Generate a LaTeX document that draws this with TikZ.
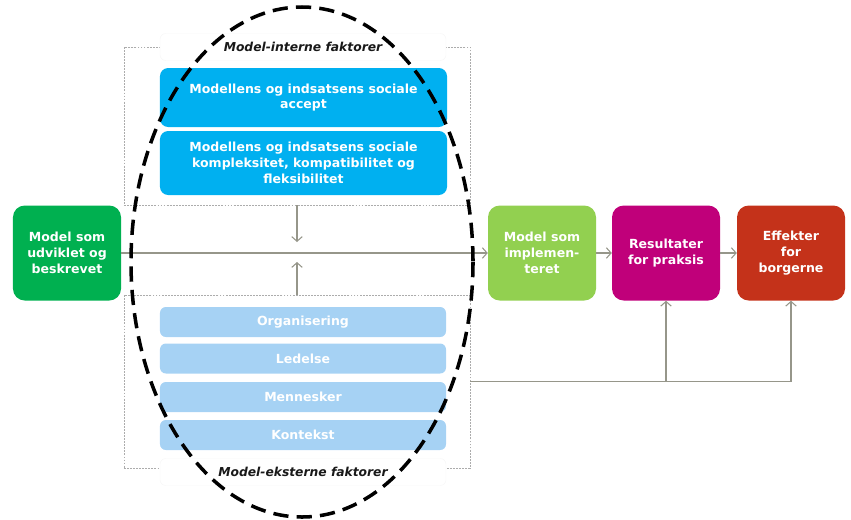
\documentclass[tikz,border=0pt]{standalone}
\usepackage{fontspec}
\setmainfont{DejaVu Sans}
\usetikzlibrary{arrows.meta}
\definecolor{darkgreen}{RGB}{0,176,80}
\definecolor{lightgreen}{RGB}{146,208,80}
\definecolor{praksismagenta}{RGB}{192,0,122}
\definecolor{borgerred}{RGB}{196,50,26}
\definecolor{internblue}{RGB}{0,176,240}
\definecolor{eksternblue}{RGB}{166,210,244}
\definecolor{linegray}{RGB}{150,150,138}

\begin{document}
\begin{tikzpicture}[x=0.03cm, y=-0.03cm,
    txt/.style={text=white, font=\bfseries\fontsize{10.7}{13.4}\selectfont, align=center, inner sep=0pt},
    stepbox/.style={txt, rounded corners=10pt, minimum width=3.24cm, minimum height=2.85cm},
    internbox/.style={txt, fill=internblue, rounded corners=7pt, minimum width=8.61cm},
    eksternbox/.style={txt, fill=eksternblue, rounded corners=5pt, minimum width=8.58cm, minimum height=0.9cm},
    frame/.style={draw=gray!65, line width=0.7pt, dash pattern=on 1.6pt off 1pt, inner sep=0pt, minimum width=10.38cm},
    labelbox/.style={draw=gray!6, fill=white, rounded corners=5pt, minimum width=8.58cm, minimum height=0.81cm,
        font=\bfseries\itshape\fontsize{10.5}{12}\selectfont, text=black!90},
    flow/.style={draw=linegray, line width=0.9pt, -{Straight Barb[length=4pt, width=9pt]}}]
			\useasboundingbox (0,0) rectangle (851,519);
			\node[frame, minimum height=4.74cm] (interne)  at (297, 126)   {};
			\node[frame, minimum height=5.19cm] (eksterne) at (297, 381.5) {};
			\node[labelbox] (internelabel)  at (303, 47)  {Model-interne faktorer};
			\node[labelbox] (eksternelabel) at (303, 472) {Model-eksterne faktorer};
			\node[internbox, minimum height=1.77cm] (accept)   at (303.5, 97.5) {Modellens og indsatsens sociale\\accept};
			\node[internbox, minimum height=1.92cm] (kompleks) at (303.5, 163)  {Modellens og indsatsens sociale\\kompleksitet, kompatibilitet og\\fleksibilitet};
			\node[eksternbox] (organisering) at (303, 322)   {Organisering};
			\node[eksternbox] (ledelse)      at (303, 358.5) {Ledelse};
			\node[eksternbox] (mennesker)    at (303, 397)   {Mennesker};
			\node[eksternbox] (kontekst)     at (303, 435)   {Kontekst};
			\node[stepbox, fill=darkgreen]      (udviklet)      at (67, 253)  {Model som\\udviklet og\\beskrevet};
			\node[stepbox, fill=lightgreen]     (implementeret) at (542, 253) {Model som\\implemen-\\teret};
			\node[stepbox, fill=praksismagenta] (resultater)    at (666, 253) {Resultater\\for praksis};
			\node[stepbox, fill=borgerred]      (effekter)      at (791, 253) {Effekter\\for\\borgerne};
			\coordinate (ned) at (297, 242);
			\coordinate (op)  at (297, 262);
			\draw[flow] (udviklet) -- (implementeret);
			\draw[flow] (implementeret) -- (resultater);
			\draw[flow] (resultater) -- (effekter);
			\draw[flow] (interne.south) -- (ned);
			\draw[flow] (eksterne.north) -- (op);
			\draw[flow] (eksterne.east) -| (effekter.south);
			\draw[flow] (eksterne.east -| resultater.south) -- (resultater.south);
			\draw[black, line width=3pt, dash pattern=on 13pt off 7pt] (302, 262) ellipse [x radius=171, y radius=255];
		\end{tikzpicture}
\end{document}
